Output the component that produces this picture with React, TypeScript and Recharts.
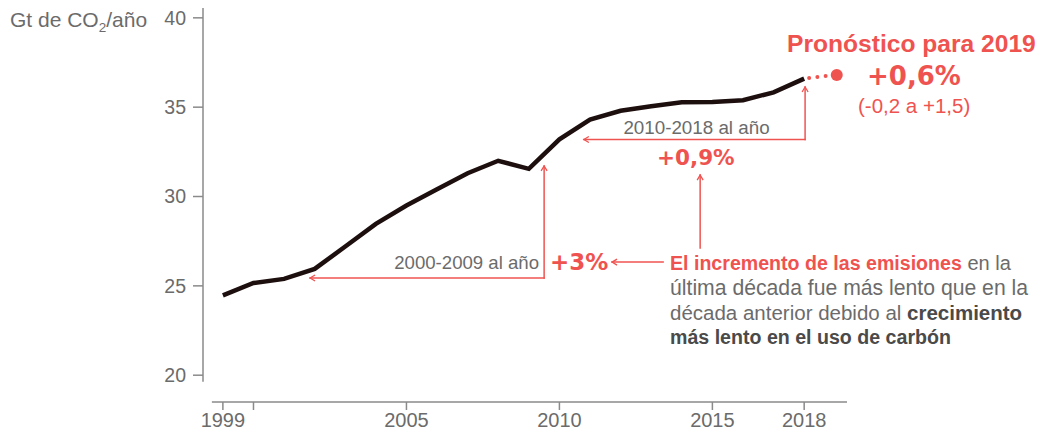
import { LineChart, Line, XAxis, YAxis, ReferenceLine } from 'recharts';

const years = [1999, 2000, 2001, 2002, 2003, 2004, 2005, 2006, 2007, 2008, 2009, 2010, 2011, 2012, 2013, 2014, 2015, 2016, 2017, 2018, 2019];
const emissions = [24.47, 25.16, 25.39, 25.95, 27.2, 28.47, 29.5, 30.4, 31.3, 32.0, 31.55, 33.2, 34.3, 34.8, 35.05, 35.27, 35.29, 35.39, 35.83, 36.6, null];
const forecast = [null, null, null, null, null, null, null, null, null, null, null, null, null, null, null, null, null, null, null, 36.6, 36.8];

const xTicks = [1999, 2000, 2005, 2010, 2015, 2018];
const yTicks = [20, 25, 30, 35, 40];

const data = years.map((year, i) => ({ year, emissions: emissions[i], forecast: forecast[i] }));

const RED = '#ef5350';
const GRAY = '#6b6b6b';
const AXIS = '#8a8a8a';
const SANS = 'Liberation Sans, Arial, sans-serif';
const WIDE = 'DejaVu Sans, sans-serif';

// annotation arrows, in data space: [from, to], arrow head at "to"
const arrows: { from: [number, number]; to: [number, number]; head: boolean }[] = [
  { from: [2009.5, 25.44], to: [2009.5, 31.71], head: true },
  { from: [2009.5, 25.44], to: [2001.85, 25.44], head: true },
  { from: [2018.03, 33.19], to: [2018.03, 36.13], head: true },
  { from: [2018.03, 33.19], to: [2010.8, 33.19], head: true },
  { from: [2014.6, 27.12], to: [2014.6, 31.2], head: true },
  { from: [2013.39, 26.33], to: [2011.72, 26.33], head: true },
];

const arrowShape = (head: boolean) => (p: any) => {
  const { x1, y1, x2, y2 } = p;
  const len = Math.hypot(x2 - x1, y2 - y1) || 1;
  const ux = (x2 - x1) / len;
  const uy = (y2 - y1) / len;
  const L = 5;
  const W = 3;
  const pts = `${x2 - L * ux - W * uy},${y2 - L * uy + W * ux} ${x2},${y2} ${x2 - L * ux + W * uy},${y2 - L * uy - W * ux}`;
  return (
    <g>
      <line x1={x1} y1={y1} x2={x2} y2={y2} stroke={RED} strokeWidth={1.5} strokeLinecap="square" />
      {head && <polyline points={pts} fill="none" stroke={RED} strokeWidth={1.3} />}
    </g>
  );
};

const axisShape = (p: any) => (
  <line x1={p.x1} y1={p.y1} x2={p.x2} y2={p.y2} stroke={AXIS} strokeWidth={1.5} />
);

const ForecastDot = (props: any) => {
  const { cx, cy, payload } = props;
  if (payload?.year !== 2019 || cx == null || cy == null) return <g key={`fd-${payload?.year}`} />;
  return <circle key="fd-2019" cx={cx + 2} cy={cy} r={6} fill={RED} />;
};

export default function App() {
  return (
    <div style={{ position: 'absolute', left: 0, top: 0, width: 1043, height: 434, background: '#fff' }}>
      <LineChart width={1043} height={434} data={data} margin={{ top: 8, right: 196, bottom: 2, left: 143 }}>
        <XAxis
          dataKey="year"
          type="number"
          domain={[1998.35, 2019.4]}
          allowDataOverflow
          ticks={xTicks}
          tickFormatter={(v) => (v === 2000 ? '' : String(v))}
          axisLine={false}
          tickLine={{ stroke: AXIS, strokeWidth: 1.5 }}
          tickSize={8}
          tickMargin={3}
          height={30}
          tick={{ fill: GRAY, fontSize: 20, fontFamily: SANS }}
        />
        <YAxis
          type="number"
          domain={[18.5, 40.55]}
          allowDataOverflow
          ticks={yTicks}
          axisLine={false}
          tickLine={{ stroke: AXIS, strokeWidth: 1.5 }}
          tickSize={10}
          tickMargin={7}
          width={60}
          tick={{ fill: GRAY, fontSize: 19.5, fontFamily: SANS }}
        />
        <ReferenceLine segment={[{ x: 1998.35, y: 19.64 }, { x: 1998.35, y: 40.55 }]} ifOverflow="visible" shape={axisShape} />
        <ReferenceLine segment={[{ x: 1998.64, y: 18.5 }, { x: 2019.4, y: 18.5 }]} ifOverflow="visible" shape={axisShape} />
        {arrows.map((a, i) => (
          <ReferenceLine
            key={i}
            segment={[{ x: a.from[0], y: a.from[1] }, { x: a.to[0], y: a.to[1] }]}
            ifOverflow="visible"
            shape={arrowShape(a.head)}
          />
        ))}
        <Line
          type="linear"
          dataKey="forecast"
          stroke={RED}
          strokeWidth={4}
          strokeLinecap="round"
          strokeDasharray="0 8.3"
          strokeDashoffset={3.3}
          dot={ForecastDot}
          activeDot={false}
          isAnimationActive={false}
        />
        <Line
          type="linear"
          dataKey="emissions"
          stroke="#1e0f0f"
          strokeWidth={4.5}
          dot={false}
          activeDot={false}
          isAnimationActive={false}
        />
      </LineChart>
      <svg width={1043} height={434} style={{ position: 'absolute', left: 0, top: 0, pointerEvents: 'none' }}>
        <text x={10} y={27} fill={GRAY} fontSize={21} fontFamily={SANS}>
          Gt de CO<tspan dy={5} fontSize={13.5}>2</tspan><tspan dy={-5}>/año</tspan>
        </text>

        <text x={787} y={52} fill={RED} fontSize={24.6} fontWeight={700} fontFamily={SANS}>Pronóstico para 2019</text>
        <text x={867} y={85} fill={RED} fontSize={26} fontWeight={700} fontFamily={WIDE}>+0,6%</text>
        <text x={858} y={113} fill={RED} fontSize={20.5} fontFamily={SANS}>(-0,2 a +1,5)</text>

        <text x={696.5} y={134} textAnchor="middle" fill={GRAY} fontSize={18.8} fontFamily={SANS}>2010-2018 al año</text>
        <text x={657} y={165} fill={RED} fontSize={21.5} fontWeight={700} fontFamily={WIDE}>+0,9%</text>

        <text x={539} y={268.5} textAnchor="end" fill={GRAY} fontSize={18.6} fontFamily={SANS}>2000-2009 al año</text>
        <text x={550} y={270} fill={RED} fontSize={23} fontWeight={700} fontFamily={WIDE}>+3%</text>

        <text x={670} y={270} fontSize={20} fontFamily={SANS}>
          <tspan fill={RED} fontWeight={700} fontSize={19.6}>El incremento de las emisiones</tspan>
          <tspan fill={GRAY}> en la</tspan>
        </text>
        <text x={670} y={295} fontSize={21.2} fontFamily={SANS} fill={GRAY}>última década fue más lento que en la</text>
        <text x={670} y={320} fontSize={20.5} fontFamily={SANS}>
          <tspan fill={GRAY}>década anterior debido al </tspan>
          <tspan fill="#4a4a4a" fontWeight={700}>crecimiento</tspan>
        </text>
        <text x={670} y={344} fontSize={19.6} fontFamily={SANS} fill="#4a4a4a" fontWeight={700}>más lento en el uso de carbón</text>
      </svg>
    </div>
  );
}
